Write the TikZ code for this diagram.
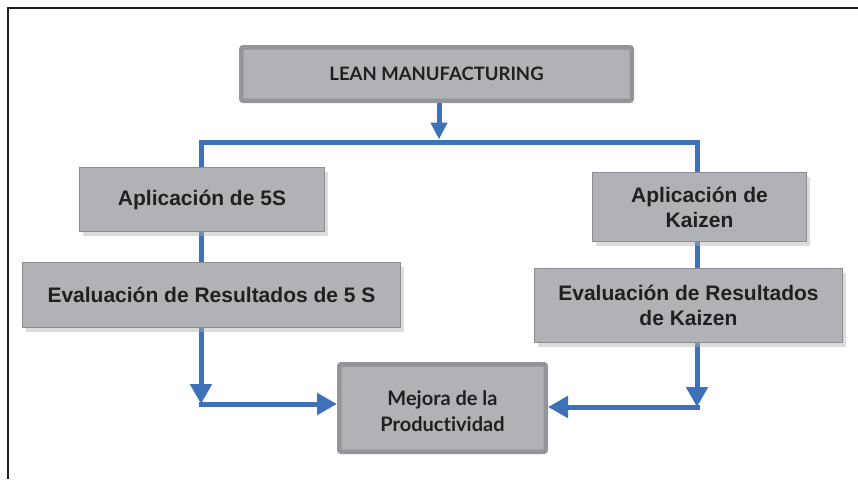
\documentclass[tikz,border=0pt]{standalone}
\usepackage{fontspec}
\setmainfont{Liberation Sans}
\newfontfamily\calib{Lato}[Ligatures={NoCommon}]
\usetikzlibrary{arrows.meta,shadows,backgrounds}
\definecolor{boxfill}{HTML}{B1B2B5}
\definecolor{boxedge}{HTML}{939598}
\definecolor{thinedge}{HTML}{8C8D90}
\definecolor{flow}{HTML}{3D72B9}
\definecolor{ink}{HTML}{231F20}
\tikzset{
  mainbox/.style={draw=boxedge, line width=4.5pt, fill=boxfill, rounded corners=2pt,
    inner sep=0pt, align=center, text=ink,
    font=\calib\bfseries\fontsize{18.5}{26}\selectfont},
  sidebox/.style={draw=thinedge, line width=1.2pt, fill=boxfill, inner sep=0pt,
    align=center, text=ink, font=\bfseries\fontsize{21}{25}\selectfont,
    drop shadow={shadow xshift=3pt, shadow yshift=-4pt, fill=black!30, opacity=0.45}},
  flowline/.style={draw=flow, line width=5pt},
  tipbig/.style={-{Triangle[width=21pt,length=20pt]}},
  tipsmall/.style={-{Triangle[width=16pt,length=17pt]}},
}
\begin{document}
\begin{tikzpicture}[x=1pt,y=-1pt]
\useasboundingbox (0,0) rectangle (858,479);
% frame
\draw[ink, line width=2.5pt] (8,479) -- (8,8) -- (858,8);
% nodes
\node[mainbox, minimum width=390.5pt, minimum height=53.5pt] (lean) at (436.5,74) {LEAN MANUFACTURING};
\node[sidebox, minimum width=245pt, minimum height=64pt] (ap5) at (202,199.5) {Aplicación de 5S};
\node[sidebox, minimum width=378pt, minimum height=65pt] (ev5) at (211.5,295) {Evaluación de Resultados de 5 S};
\node[sidebox, minimum width=214pt, minimum height=69pt] (apk) at (699.5,207) {Aplicación de\\Kaizen};
\node[sidebox, minimum width=308pt, minimum height=74pt] (evk) at (688.5,305.5) {Evaluación de Resultados\\de Kaizen};
\node[mainbox, minimum width=206.5pt, minimum height=87.5pt, font=\calib\bfseries\fontsize{20}{26}\selectfont] (mej) at (442.5,408) {\rule{0pt}{20.5pt}Mejora de la\\Productividad};
% connectors
\coordinate (busL) at (201,142);
\coordinate (busR) at (697,142);
\coordinate (busC) at (439,142);
\coordinate (cornL) at (201,404);
\coordinate (cornR) at (697,407);
\begin{scope}[on background layer]
\draw[flowline, tipsmall] (lean.south -| busC) -- ([yshift=2.5pt]busC);
\draw[flowline, tipbig] (busL) -- (busR) -- (cornR);
\draw[flowline, tipbig, line cap=rect] (busL) -- (cornL);
\draw[flowline, tipbig, line cap=rect] (cornL) -- (mej.west |- cornL);
\draw[flowline, tipbig, line cap=rect] (cornR) -- (mej.east |- cornR);
\end{scope}
\end{tikzpicture}
\end{document}
